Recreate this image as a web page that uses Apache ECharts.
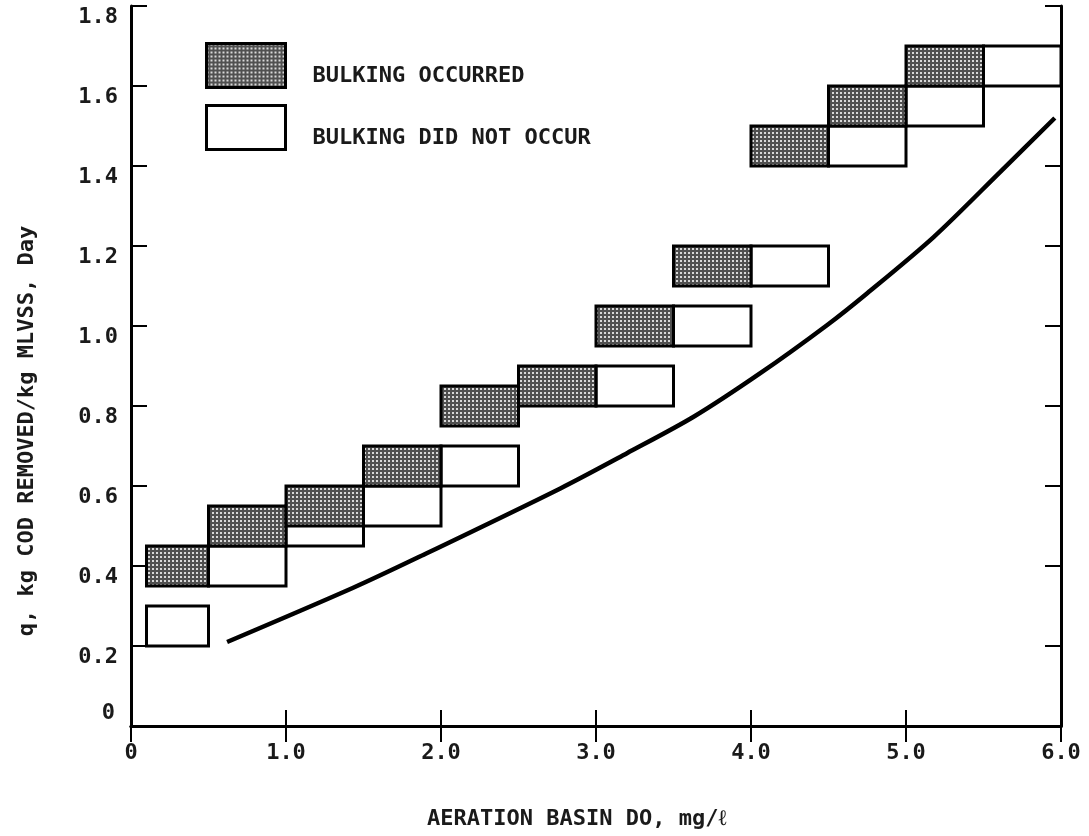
<!DOCTYPE html>
<html><head><meta charset="utf-8">
<script src="https://cdn.jsdelivr.net/npm/echarts@6/dist/echarts.min.js"></script>
<style>html,body{margin:0;padding:0;background:#fff}#c{width:1089px;height:836px}</style>
</head><body><div id="c"></div>
<script>
// ---- data ----
const xTickValues = [0, 1, 2, 3, 4, 5, 6];
const yTickValues = [0, 0.2, 0.4, 0.6, 0.8, 1.0, 1.2, 1.4, 1.6, 1.8];
// boxes: [x0, x1, y0, y1]
const bulkingOccurred = [
  [0.1, 0.5, 0.35, 0.45],
  [0.5, 1.0, 0.45, 0.55],
  [1.0, 1.5, 0.50, 0.60],
  [1.5, 2.0, 0.60, 0.70],
  [2.0, 2.5, 0.75, 0.85],
  [2.5, 3.0, 0.80, 0.90],
  [3.0, 3.5, 0.95, 1.05],
  [3.5, 4.0, 1.10, 1.20],
  [4.0, 4.5, 1.40, 1.50],
  [4.5, 5.0, 1.50, 1.60],
  [5.0, 5.5, 1.60, 1.70]
];
const bulkingDidNotOccur = [
  [0.1, 0.5, 0.20, 0.30],
  [0.5, 1.0, 0.35, 0.45],
  [1.0, 1.5, 0.45, 0.55],
  [1.5, 2.0, 0.50, 0.60],
  [2.0, 2.5, 0.60, 0.70],
  [3.0, 3.5, 0.80, 0.90],
  [3.5, 4.0, 0.95, 1.05],
  [4.0, 4.5, 1.10, 1.20],
  [4.5, 5.0, 1.40, 1.50],
  [5.0, 5.5, 1.50, 1.60],
  [5.5, 6.0, 1.60, 1.70]
];
const curveX = [0.62, 1.43, 1.86, 2.77, 3.20, 3.63, 4.06, 4.49, 4.75, 5.18, 5.61, 5.96];
const curveY = [0.21, 0.345, 0.423, 0.594, 0.682, 0.773, 0.882, 1.002, 1.082, 1.223, 1.386, 1.52];
const seriesNames = ['BULKING OCCURRED', 'BULKING DID NOT OCCUR'];
const xTitle = 'AERATION BASIN DO, mg/ℓ';
const yTitle = 'q, kg COD REMOVED/kg MLVSS, Day';

// ---- styling ----
const FONT = 'DejaVu Sans Mono';
const WEIGHT = 'bold';
const TXT = '#1a1a1a';
const pc = document.createElement('canvas');
pc.width = 4; pc.height = 4;
const g = pc.getContext('2d');
g.fillStyle = '#505050'; g.fillRect(0, 0, 4, 4);
g.fillStyle = '#d8d8d8'; g.fillRect(0, 0, 2, 2);
const shade = { image: pc, repeat: 'repeat' };

function makeBox(fill) {
  return function (params, api) {
    const p0 = api.coord([api.value(0), api.value(3)]);
    const p1 = api.coord([api.value(1), api.value(2)]);
    return {
      type: 'rect',
      shape: { x: p0[0], y: p0[1], width: p1[0] - p0[0], height: p1[1] - p0[1] },
      style: { fill: fill, stroke: '#000', lineWidth: 3 }
    };
  };
}

const axisLine = { show: true, lineStyle: { color: '#000', width: 3 } };
const axisTick = { show: true, inside: true, length: 16, lineStyle: { color: '#000', width: 2 } };
const isZero = v => Math.abs(v) < 1e-9;

const chart = echarts.init(document.getElementById('c'), null, { renderer: 'canvas' });
chart.setOption({
  animation: false,
  backgroundColor: '#fff',
  grid: { left: 131, right: 28, top: 6, bottom: 110, containLabel: false, outerBoundsMode: 'none' },
  legend: {
    orient: 'vertical', left: 200, top: 37,
    itemWidth: 79, itemHeight: 44, itemGap: 15,
    icon: 'rect', selectedMode: false,
    data: seriesNames,
    formatter: name => '\n' + name,
    itemStyle: { borderColor: '#000', borderWidth: 3 },
    textStyle: { fontFamily: FONT, fontWeight: WEIGHT, fontSize: 22, color: TXT, lineHeight: 21, padding: [0, 0, 0, 22] }
  },
  xAxis: [
    {
      type: 'value', min: xTickValues[0], max: xTickValues[xTickValues.length - 1], interval: 1,
      position: 'bottom', axisLine, axisTick, splitLine: { show: false },
      axisLabel: { margin: 16, fontFamily: FONT, fontWeight: WEIGHT, fontSize: 22, color: TXT,
        formatter: v => isZero(v) ? '0' : v.toFixed(1) }
    },
    {
      type: 'value', min: 0, max: 6, interval: 1, position: 'top',
      axisLine, axisTick, splitLine: { show: false }, axisLabel: { show: false }
    }
  ],
  yAxis: [
    {
      type: 'value', min: yTickValues[0], max: yTickValues[yTickValues.length - 1], interval: 0.2,
      position: 'left', axisLine, axisTick, splitLine: { show: false },
      axisLabel: { margin: 13, fontFamily: FONT, fontWeight: WEIGHT, fontSize: 22, color: TXT, lineHeight: 22,
        formatter: v => isZero(v) ? '' : '\n' + v.toFixed(1) }
    },
    {
      type: 'value', min: 0, max: 1.8, interval: 0.2, position: 'left',
      axisLine: { show: false }, axisTick: { show: false }, splitLine: { show: false },
      axisLabel: { margin: 16, fontFamily: FONT, fontWeight: WEIGHT, fontSize: 22, color: TXT, lineHeight: 26,
        formatter: v => isZero(v) ? '0\n' : '' }
    },
    {
      type: 'value', min: 0, max: 1.8, interval: 0.2, position: 'right',
      axisLine, axisTick, splitLine: { show: false }, axisLabel: { show: false }
    }
  ],
  graphic: [
    { type: 'text', left: 577 - 150, top: 808,
      style: { text: xTitle, font: WEIGHT + ' 22px "' + FONT + '"', fill: TXT, width: 300, align: 'center' }, z: 10 },
    { type: 'text', x: 27, y: 431, rotation: Math.PI / 2,
      style: { text: yTitle, font: WEIGHT + ' 22px "' + FONT + '"', fill: TXT, align: 'center', verticalAlign: 'middle' }, z: 10 }
  ],
  series: [
    {
      name: seriesNames[1], type: 'custom', renderItem: makeBox('#fff'),
      itemStyle: { color: '#fff', borderColor: '#000', borderWidth: 3 },
      encode: { x: [0, 1], y: [2, 3] }, data: bulkingDidNotOccur, z: 2
    },
    {
      name: seriesNames[0], type: 'custom', renderItem: makeBox(shade),
      itemStyle: { color: shade, borderColor: '#000', borderWidth: 3 },
      encode: { x: [0, 1], y: [2, 3] }, data: bulkingOccurred, z: 3
    },
    {
      name: 'curve', type: 'line', smooth: 0.3, showSymbol: false, symbol: 'none',
      lineStyle: { color: '#000', width: 4.5 },
      data: curveX.map((x, i) => [x, curveY[i]]), z: 4
    }
  ]
});
</script>
</body></html>
